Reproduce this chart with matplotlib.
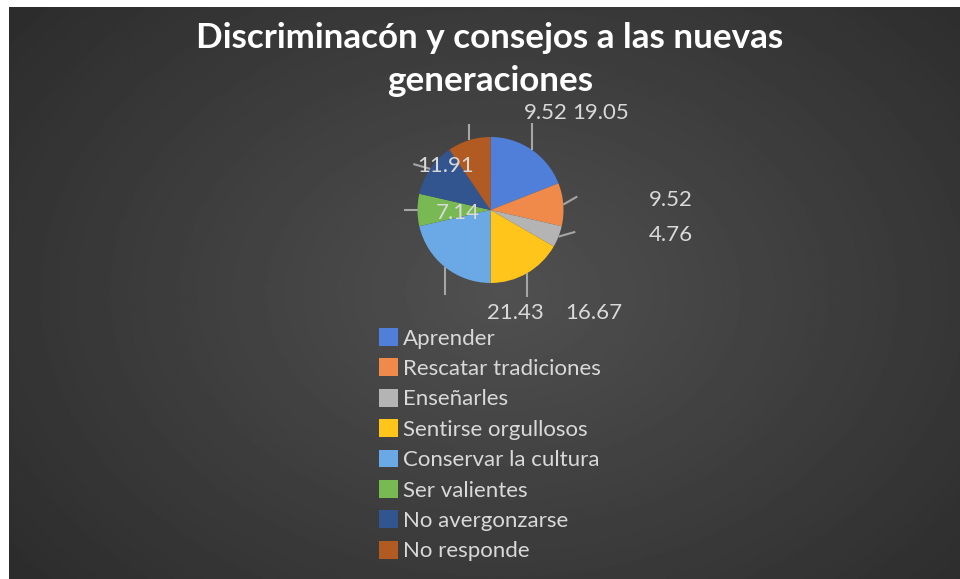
import numpy as np
import matplotlib
matplotlib.use("Agg")
import matplotlib.pyplot as plt
from matplotlib.patches import Patch

plt.rcParams['font.family'] = ['Lato', 'DejaVu Sans']

# data
categories = ['Aprender', 'Rescatar tradiciones', 'Enseñarles', 'Sentirse orgullosos',
              'Conservar la cultura', 'Ser valientes', 'No avergonzarse', 'No responde']
values = [19.05, 9.52, 4.76, 16.67, 21.43, 7.14, 11.91, 9.52]
value_labels = ['19.05', '9.52', '4.76', '16.67', '21.43', '7.14', '11.91', '9.52']
colors = ['#4f7fd8', '#f08a4b', '#b4b4b4', '#ffc51a', '#6aa8e6', '#78b954', '#33558f', '#b15a22']

# label placement (pie radius = 1), leader line direction (deg) and length
label_pos = [(1.51, 1.33), (2.47, 0.14), (2.47, -0.34), (1.41, -1.41),
             (0.34, -1.41), (-0.45, -0.04), (-0.61, 0.60), (0.76, 1.33)]
leader_dir = [90, 30, 16, -90, -90, 180, 164, 90]
leader_len = [0.37, 0.22, 0.24, 0.33, 0.38, 0.19, 0.24, 0.22]

W, H = 960, 579
fig = plt.figure(figsize=(W / 100, H / 100), dpi=100)
fig.patch.set_facecolor('white')

# dark radial background
bg = fig.add_axes([9 / W, 0, 1 - 9 / W, 1 - 7 / H])
yy, xx = np.mgrid[0:1:300j, 0:1:500j]
r = np.sqrt(((xx - 0.52) / 0.75) ** 2 + ((yy - 0.5) / 0.9) ** 2)
shade = 0.155 + 0.16 * np.clip(1 - r, 0, 1)
bg.imshow(shade, cmap='gray', vmin=0, vmax=1, aspect='auto', extent=[0, 1, 0, 1])
bg.set_axis_off()

# pie axes: centre at (490.5, 210) px, radius 73 px
cx, cy, R = 490.5, 210, 73
ax = fig.add_axes([(cx - 3 * R) / W, (H - cy - 3 * R) / H, 6 * R / W, 6 * R / H])
ax.set_axis_off()

wedges, _ = ax.pie(values, colors=colors, startangle=90, counterclock=False,
                   radius=1, wedgeprops=dict(linewidth=0))
ax.set_xlim(-3, 3)
ax.set_ylim(-3, 3)

for w, txt, pos, d, ln in zip(wedges, value_labels, label_pos, leader_dir, leader_len):
    mid = np.deg2rad((w.theta1 + w.theta2) / 2)
    x0, y0 = np.cos(mid), np.sin(mid)
    x1 = x0 + ln * np.cos(np.deg2rad(d))
    y1 = y0 + ln * np.sin(np.deg2rad(d))
    ax.plot([x0, x1], [y0, y1], color='#a6a6a6', lw=1.5, solid_capstyle='butt')
    ax.text(pos[0], pos[1], txt, ha='center', va='center', fontsize=16, color='#d9d9d9')

fig.text(490 / W, 1 - 38 / H, 'Discriminacón y consejos a las nuevas', ha='center', va='center',
         fontsize=25.2, fontweight='bold', color='white')
fig.text(490 / W, 1 - 81 / H, 'generaciones', ha='center', va='center',
         fontsize=25.2, fontweight='bold', color='white')

handles = [Patch(facecolor=c, edgecolor='none') for c in colors]
leg = fig.legend(handles, categories, loc='upper left', bbox_to_anchor=(379 / W, 1 - 328 / H),
                 frameon=False, fontsize=16, handlelength=0.86, handleheight=0.86,
                 handletextpad=0.22, labelspacing=0.44, borderpad=0, borderaxespad=0)
for t in leg.get_texts():
    t.set_color('#d9d9d9')

fig.savefig('out.png', dpi=100, facecolor=fig.get_facecolor())
